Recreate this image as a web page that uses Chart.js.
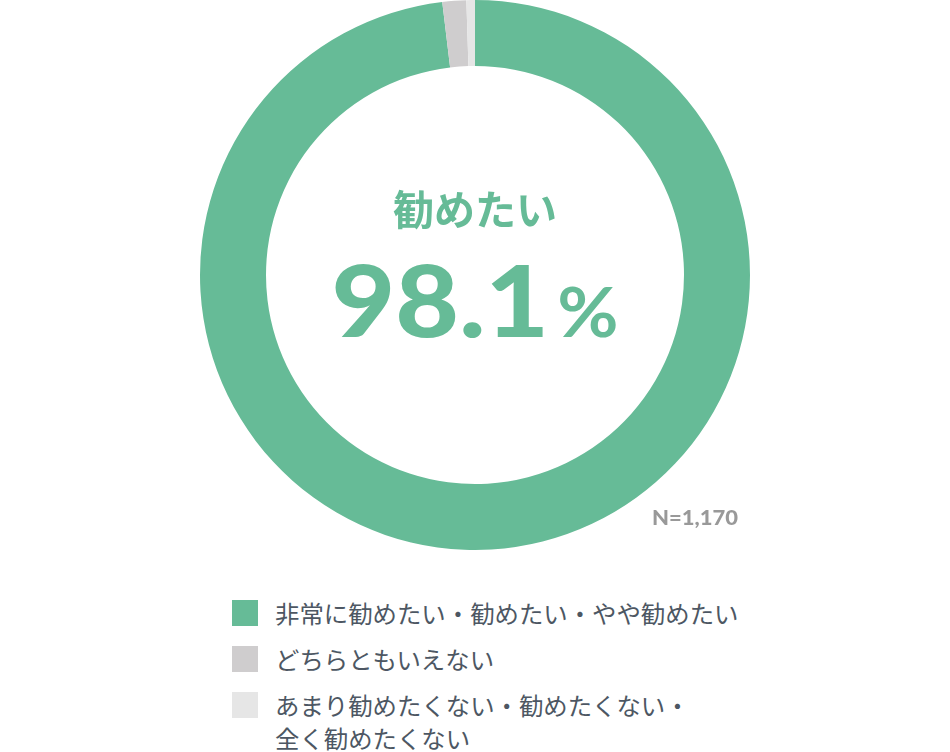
<!DOCTYPE html>
<html lang="ja">
<head>
<meta charset="utf-8">
<script src="https://cdn.jsdelivr.net/npm/chart.js@4"></script>
<style>
  html, body { margin: 0; padding: 0; background: #fff; }
  body { width: 950px; height: 752px; position: relative; overflow: hidden;
         font-family: "Noto Sans CJK JP", "Noto Sans", sans-serif; }
  #wrap { position: absolute; left: 0; top: 0; width: 950px; height: 550px; }
  #legend { position: absolute; left: 232px; top: 596px; margin: 0; padding: 0; list-style: none; }
  #legend li { position: relative; padding-left: 43px; font-size: 24.4px; line-height: 33px;
               color: #4d5763; margin-bottom: 13px; white-space: nowrap; }
  #legend li span.box { position: absolute; left: 0; top: 4px; width: 26px; height: 26px; }
</style>
</head>
<body>
<div id="wrap"><canvas id="donut"></canvas></div>
<ul id="legend"></ul>
<script>
// answers (percent)
const labels = ['非常に勧めたい・勧めたい・やや勧めたい', 'どちらともいえない', 'あまり勧めたくない・勧めたくない・\n全く勧めたくない'];
const values = [98.1, 1.4, 0.5];
const colors = ['#66bb97', '#cfcdce', '#e6e6e6'];
const centerTitle = '勧めたい';
const centerValue = '98.1';
const sampleNote = 'N=1,170';

// draw text stretched a bit wider (the original uses a wide geometric font)
const wideText = (ctx, txt, x, y, sx) => {
    ctx.save()
    ctx.translate(x, y)
    ctx.scale(sx, 1)
    ctx.fillText(txt, 0, 0)
    ctx.restore()
    return ctx.measureText(txt).width * sx
}

// center text + N note
const centerText = {
    id: 'centerText',
    afterDraw(chart) {
        const ctx = chart.ctx
        const meta = chart.getDatasetMeta(0).data[0]
        const cx = meta.x, cy = meta.y
        ctx.save()
        ctx.fillStyle = '#66bb97'
        ctx.textAlign = 'center'
        ctx.textBaseline = 'alphabetic'
        ctx.font = 'bold 41px "Noto Sans CJK JP"'
        ctx.fillText(centerTitle, cx, cy - 50)

        ctx.textAlign = 'left'
        const bigFont = '900 100px "Lato", "Inter", sans-serif'
        const pctFont = '700 68px "Lato", "Inter", sans-serif'
        ctx.font = bigFont
        const w1 = ctx.measureText(centerValue).width * 1.1
        ctx.font = pctFont
        const w2 = ctx.measureText('%').width * 1.1
        const left = cx - (w1 + w2 + 8) / 2
        ctx.font = bigFont
        wideText(ctx, centerValue, left, cy + 62, 1.1)
        ctx.font = pctFont
        wideText(ctx, '%', left + w1 + 8, cy + 62, 1.1)

        ctx.fillStyle = '#999999'
        ctx.font = '900 20px "Lato", "Inter", sans-serif'
        wideText(ctx, sampleNote, 652, 525, 1.1)
        ctx.restore()
    }
}

const chart = new Chart(document.getElementById('donut'), {
    type: 'doughnut',
    data: {
        labels: labels,
        datasets: [{
            data: values,
            backgroundColor: colors,
            borderWidth: 0,
        }],
    },
    options: {
        responsive: true,
        maintainAspectRatio: false,
        animation: false,
        cutout: '76%',
        layout: { padding: 0 },
        plugins: {
            legend: { display: false },
            tooltip: { enabled: false }
        }
    },
    plugins: [centerText]
});

// html legend
const ul = document.getElementById('legend')
labels.forEach((l, i) => {
    const li = document.createElement('li')
    const box = document.createElement('span')
    box.className = 'box'
    box.style.background = colors[i]
    li.appendChild(box)
    l.split('\n').forEach((part, j) => {
        if (j > 0) li.appendChild(document.createElement('br'))
        li.appendChild(document.createTextNode(part))
    })
    ul.appendChild(li)
})
</script>
</body>
</html>
